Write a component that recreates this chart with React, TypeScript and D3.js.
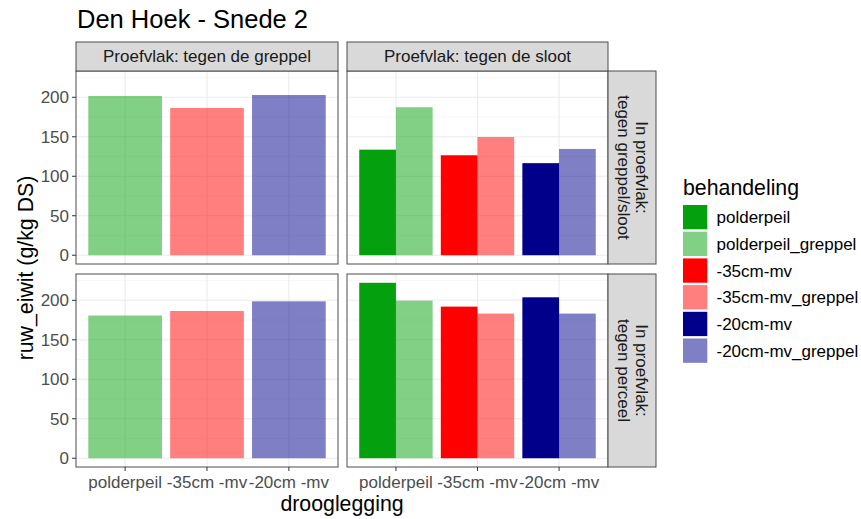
import React from "react";
import * as d3 from "d3";

const title = "Den Hoek - Snede 2";
const categories = ["polderpeil", "-35cm -mv", "-20cm -mv"];
const colFacets = ["Proefvlak: tegen de greppel", "Proefvlak: tegen de sloot"];
const rowFacets = [
  ["In proefvlak:", "tegen greppel/sloot"],
  ["In proefvlak:", "tegen perceel"],
];
const treatments = [
  "polderpeil",
  "polderpeil_greppel",
  "-35cm-mv",
  "-35cm-mv_greppel",
  "-20cm-mv",
  "-20cm-mv_greppel",
];
const baseColors = ["#05A00D", "#FF0000", "#00008B"];
const yTicks = [0, 50, 100, 150, 200];

// values per panel
const topLeftGreppel = [201.6, 186.5, 202.9];
const bottomLeftGreppel = [180.7, 186.5, 198.7];
const topRightBase = [133.7, 126.6, 116.6];
const topRightGreppel = [187.4, 149.7, 134.6];
const bottomRightBase = [222.2, 192.0, 203.8];
const bottomRightGreppel = [199.6, 183.2, 183.2];

const FONT = "'Liberation Sans', Arial, sans-serif";

type Panel = { base: number[] | null; greppel: number[] };
const panels: Panel[][] = [
  [
    { base: null, greppel: topLeftGreppel },
    { base: topRightBase, greppel: topRightGreppel },
  ],
  [
    { base: null, greppel: bottomLeftGreppel },
    { base: bottomRightBase, greppel: bottomRightGreppel },
  ],
];

export default function App() {
  const W = 861;
  const H = 519;
  const colX = [
    [76, 338],
    [347, 608],
  ];
  const rowY = [
    [71, 264],
    [274, 467],
  ];
  const allVals = [
    ...topLeftGreppel,
    ...bottomLeftGreppel,
    ...topRightBase,
    ...topRightGreppel,
    ...bottomRightBase,
    ...bottomRightGreppel,
  ];
  const maxV = d3.max(allVals) as number;
  const exp = maxV * 0.05;
  const yDomain: [number, number] = [-exp, maxV + exp];
  const minorTicks = [25, 75, 125, 175, 225];
  const border = "#4d4d4d";

  return (
    <svg
      width={W}
      height={H}
      style={{ position: "absolute", left: 0, top: 0, background: "#fff" }}
      fontFamily={FONT}
    >
      <rect x={0} y={0} width={W} height={H} fill="#fff" />
      <text x={77} y={28} fontSize={25.5} fill="#000">
        {title}
      </text>

      {panels.map((row, ri) =>
        row.map((p, ci) => {
          const [x0, x1] = colX[ci];
          const [y0, y1] = rowY[ri];
          const x = d3
            .scaleBand<string>()
            .domain(categories)
            .range([x0, x1])
            .paddingInner(0.1)
            .paddingOuter(0.15);
          const y = d3.scaleLinear().domain(yDomain).range([y1, y0]);
          const bw = x.bandwidth();
          const key = `${ri}-${ci}`;
          return (
            <g key={key}>
              <rect x={x0} y={y0} width={x1 - x0} height={y1 - y0} fill="#fff" />
              {minorTicks.map((t) => (
                <line
                  key={"mi" + t}
                  x1={x0}
                  x2={x1}
                  y1={y(t)}
                  y2={y(t)}
                  stroke="#F2F2F2"
                  strokeWidth={0.6}
                />
              ))}
              {yTicks.map((t) => (
                <line
                  key={"ma" + t}
                  x1={x0}
                  x2={x1}
                  y1={y(t)}
                  y2={y(t)}
                  stroke="#EBEBEB"
                  strokeWidth={1.1}
                />
              ))}
              {categories.map((c) => (
                <line
                  key={"xg" + c}
                  x1={(x(c) as number) + bw / 2}
                  x2={(x(c) as number) + bw / 2}
                  y1={y0}
                  y2={y1}
                  stroke="#EBEBEB"
                  strokeWidth={1.1}
                />
              ))}
              {categories.map((c, i) => {
                const bx = x(c) as number;
                const col = baseColors[i];
                if (p.base) {
                  return (
                    <g key={"b" + c}>
                      <rect
                        x={bx}
                        y={y(p.base[i])}
                        width={bw / 2}
                        height={y(0) - y(p.base[i])}
                        fill={col}
                      />
                      <rect
                        x={bx + bw / 2}
                        y={y(p.greppel[i])}
                        width={bw / 2}
                        height={y(0) - y(p.greppel[i])}
                        fill={col}
                        fillOpacity={0.5}
                      />
                    </g>
                  );
                }
                return (
                  <rect
                    key={"b" + c}
                    x={bx}
                    y={y(p.greppel[i])}
                    width={bw}
                    height={y(0) - y(p.greppel[i])}
                    fill={col}
                    fillOpacity={0.5}
                  />
                );
              })}
              <rect
                x={x0}
                y={y0}
                width={x1 - x0}
                height={y1 - y0}
                fill="none"
                stroke={border}
                strokeWidth={1}
              />
              {ci === 0 &&
                yTicks.map((t) => (
                  <g key={"yt" + t}>
                    <line x1={x0 - 4} x2={x0} y1={y(t)} y2={y(t)} stroke="#333" strokeWidth={1} />
                    <text
                      x={x0 - 7}
                      y={y(t)}
                      dy="0.35em"
                      textAnchor="end"
                      fontSize={17}
                      fill="#4D4D4D"
                    >
                      {t}
                    </text>
                  </g>
                ))}
              {ri === 1 &&
                categories.map((c) => {
                  const cx = (x(c) as number) + bw / 2;
                  return (
                    <g key={"xt" + c}>
                      <line x1={cx} x2={cx} y1={y1} y2={y1 + 4} stroke="#333" strokeWidth={1} />
                      <text x={cx} y={488} textAnchor="middle" fontSize={17} fill="#4D4D4D">
                        {c}
                      </text>
                    </g>
                  );
                })}
            </g>
          );
        })
      )}

      {colFacets.map((f, ci) => {
        const [x0, x1] = colX[ci];
        return (
          <g key={"cs" + ci}>
            <rect x={x0} y={42} width={x1 - x0} height={29} fill="#D9D9D9" stroke={border} strokeWidth={1} />
            <text x={(x0 + x1) / 2} y={62} textAnchor="middle" fontSize={17} fill="#1A1A1A">
              {f}
            </text>
          </g>
        );
      })}

      {rowFacets.map((lines, ri) => {
        const [y0, y1] = rowY[ri];
        const cy = (y0 + y1) / 2;
        return (
          <g key={"rs" + ri}>
            <rect x={608} y={y0} width={48} height={y1 - y0} fill="#D9D9D9" stroke={border} strokeWidth={1} />
            <g transform={`translate(627,${cy}) rotate(90)`}>
              <text x={0} y={-9} textAnchor="middle" fontSize={17} fill="#1A1A1A">
                {lines[0]}
              </text>
              <text x={0} y={9.5} textAnchor="middle" fontSize={17} fill="#1A1A1A">
                {lines[1]}
              </text>
            </g>
          </g>
        );
      })}

      <text x={342} y={511} textAnchor="middle" fontSize={21.3} fill="#000">
        drooglegging
      </text>
      <text
        transform={`translate(33,268) rotate(-90)`}
        textAnchor="middle"
        fontSize={21.3}
        fill="#000"
      >
        ruw_eiwit (g/kg DS)
      </text>

      <text x={683} y={195} fontSize={21.3} fill="#000">
        behandeling
      </text>
      {treatments.map((t, i) => {
        const ky = 205 + i * 26.7;
        const col = baseColors[Math.floor(i / 2)];
        return (
          <g key={"lg" + t}>
            <rect x={683} y={ky} width={24.3} height={24.3} fill="#fff" />
            <rect
              x={683}
              y={ky}
              width={24.3}
              height={24.3}
              fill={col}
              fillOpacity={i % 2 === 1 ? 0.5 : 1}
            />
            <text x={716.5} y={ky + 12.2} dy="0.35em" fontSize={17} fill="#000">
              {t}
            </text>
          </g>
        );
      })}
    </svg>
  );
}
